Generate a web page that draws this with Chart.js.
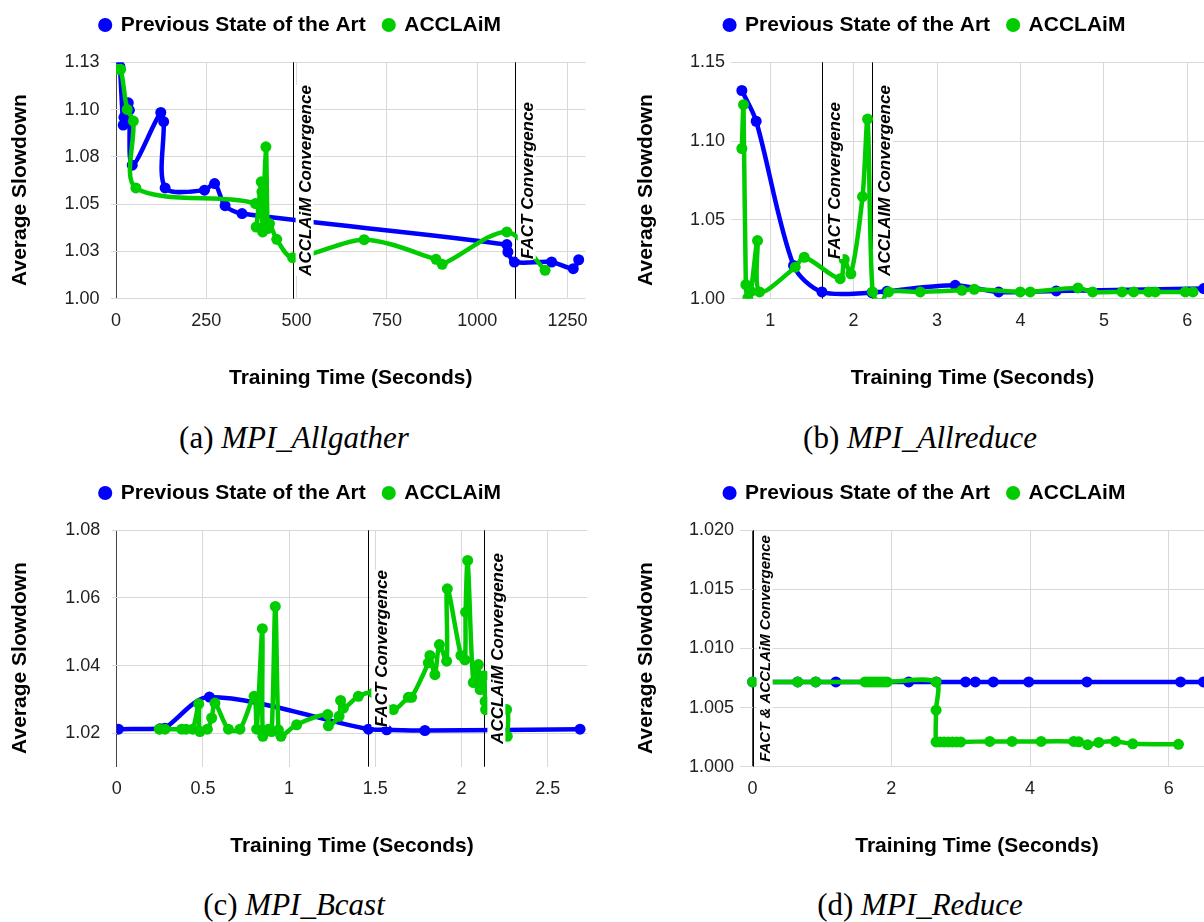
<!DOCTYPE html>
<html>
<head>
<meta charset="utf-8">
<script src="https://cdn.jsdelivr.net/npm/chart.js@4.4.1/dist/chart.umd.min.js"></script>
<style>
  html, body { margin:0; padding:0; background:#fff; width:1204px; height:922px; overflow:hidden; }
  .panel { position:absolute; width:600px; height:395px; }
  .cap { position:absolute; font-family:'Liberation Serif','Times New Roman',serif; font-size:31px; line-height:34px;
         color:#000; white-space:nowrap; transform:translateX(-50%); }
  .cap i { font-style:italic; }
</style>
</head>
<body>
<div class="panel" style="left:0;top:0"><canvas id="cAllgather" width="600" height="395"></canvas></div>
<div class="panel" style="left:625px;top:0"><canvas id="cAllreduce" width="600" height="395"></canvas></div>
<div class="panel" style="left:0;top:468px"><canvas id="cBcast" width="600" height="395"></canvas></div>
<div class="panel" style="left:625px;top:468px"><canvas id="cReduce" width="600" height="395"></canvas></div>

<div class="cap" style="left:294px;top:421px">(a) <i>MPI_Allgather</i></div>
<div class="cap" style="left:920px;top:421px">(b) <i>MPI_Allreduce</i></div>
<div class="cap" style="left:294px;top:888px">(c) <i>MPI_Bcast</i></div>
<div class="cap" style="left:920px;top:888px">(d) <i>MPI_Reduce</i></div>

<script>
// ---- (a) MPI_Allgather ----
const agPrevX = [11, 20, 22, 34, 37, 45, 124, 132, 136, 245, 273, 302, 349, 1082, 1085, 1103, 1206, 1266, 1281];
const agPrevY = [1.1227, 1.0918, 1.0959, 1.1036, 1.0997, 1.0706, 1.0985, 1.0936, 1.0586, 1.0574, 1.0609, 1.0492, 1.0450, 1.0286, 1.0247, 1.0194, 1.0194, 1.0159, 1.0206];
const agAccX = [2, 13, 31, 48, 55, 386, 388, 402, 404, 406, 415, 420, 425, 445, 489, 687, 886, 903, 1082, 1188];
const agAccY = [1.1213, 1.1213, 1.1001, 1.0939, 1.0586, 1.0503, 1.0379, 1.0618, 1.0565, 1.0353, 1.0803, 1.0371, 1.0397, 1.0314, 1.0217, 1.0312, 1.0208, 1.0182, 1.0353, 1.0150];
const agXTicks = [0, 250, 500, 750, 1000, 1250];
const agYTicks = [1.0, 1.025, 1.05, 1.075, 1.1, 1.125];
const agYLabels = ['1.00', '1.03', '1.05', '1.08', '1.10', '1.13'];
const agConvX = [489, 1104];
const agConvText = ['ACCLAiM Convergence', 'FACT Convergence'];

// ---- (b) MPI_Allreduce ----
const arPrevX = [0.660, 0.832, 1.280, 1.620, 2.219, 2.399, 3.218, 3.738, 4.429, 6.196];
const arPrevY = [1.1321, 1.1126, 1.0211, 1.0043, 1.0038, 1.0047, 1.0085, 1.0043, 1.0049, 1.0064];
const arAccX = [0.660, 0.680, 0.708, 0.732, 0.768, 0.848, 0.872, 1.300, 1.408, 1.839, 1.887, 1.967, 2.107, 2.167, 2.227, 2.319, 2.419, 2.799, 3.298, 3.446, 3.998, 4.118, 4.689, 4.865, 5.217, 5.357, 5.536, 5.616, 5.976, 6.068];
const arAccY = [1.0953, 1.1231, 1.0089, 1.0005, 1.0047, 1.0369, 1.0043, 1.0200, 1.0263, 1.0127, 1.0249, 1.0158, 1.0648, 1.1140, 1.0043, 0.9970, 1.0043, 1.0043, 1.0053, 1.0060, 1.0043, 1.0043, 1.0068, 1.0043, 1.0043, 1.0043, 1.0043, 1.0043, 1.0043, 1.0043];
const arXTicks = [1, 2, 3, 4, 5, 6];
const arYTicks = [1.0, 1.05, 1.1, 1.15];
const arYLabels = ['1.00', '1.05', '1.10', '1.15'];
const arConvX = [1.616, 2.219];
const arConvText = ['FACT Convergence', 'ACCLAIM Convergence'];

// ---- (c) MPI_Bcast ----
const bcPrevX = [0.010, 0.251, 0.280, 0.538, 1.460, 1.566, 1.788, 2.688];
const bcPrevY = [1.0212, 1.0213, 1.0215, 1.0307, 1.0212, 1.0210, 1.0208, 1.0212];
const bcAccX = [0.247, 0.280, 0.377, 0.402, 0.441, 0.476, 0.483, 0.526, 0.551, 0.570, 0.648, 0.715, 0.797, 0.812, 0.845, 0.848, 0.880, 0.899, 0.920, 0.938, 0.953, 1.044, 1.224, 1.228, 1.290, 1.299, 1.315, 1.402, 1.489, 1.605, 1.692, 1.711, 1.808, 1.817, 1.846, 1.872, 1.914, 1.918, 1.997, 2.020, 2.024, 2.036, 2.069, 2.098, 2.108, 2.131, 2.137, 2.140, 2.262, 2.266];
const bcAccY = [1.0212, 1.0212, 1.0212, 1.0212, 1.0212, 1.0287, 1.0205, 1.0212, 1.0245, 1.0289, 1.0212, 1.0212, 1.0309, 1.0212, 1.0509, 1.0191, 1.0212, 1.0205, 1.0575, 1.0210, 1.0191, 1.0225, 1.0255, 1.0222, 1.0250, 1.0297, 1.0274, 1.0309, 1.0319, 1.0270, 1.0306, 1.0306, 1.0408, 1.0430, 1.0373, 1.0462, 1.0413, 1.0627, 1.0430, 1.0417, 1.0558, 1.0711, 1.0350, 1.0403, 1.0329, 1.0370, 1.0294, 1.0270, 1.0270, 1.0191];
const bcXTicks = [0, 0.5, 1, 1.5, 2, 2.5];
const bcYTicks = [1.02, 1.04, 1.06, 1.08];
const bcYLabels = ['1.02', '1.04', '1.06', '1.08'];
const bcConvX = [1.46, 2.133];
const bcConvText = ['FACT Convergence', 'ACCLAiM Convergence'];

// ---- (d) MPI_Reduce ----
const rdPrevX = [0, 0.65, 0.91, 1.20, 2.25, 2.65, 3.07, 3.21, 3.47, 3.98, 4.82, 6.17, 6.50];
const rdPrevY = [1.00717, 1.00717, 1.00717, 1.00717, 1.00717, 1.00717, 1.00717, 1.00717, 1.00717, 1.00717, 1.00717, 1.00717, 1.00717];
const rdAccX = [0, 0.65, 0.91, 1.62, 1.66, 1.70, 1.74, 1.78, 1.82, 1.86, 1.90, 1.94, 2.645, 2.645, 2.645, 2.70, 2.76, 2.82, 2.88, 2.94, 3.00, 3.42, 3.74, 4.16, 4.63, 4.70, 4.83, 4.99, 5.23, 5.48, 6.14];
const rdAccY = [1.00717, 1.00717, 1.00717, 1.00717, 1.00717, 1.00717, 1.00717, 1.00717, 1.00717, 1.00717, 1.00717, 1.00717, 1.00717, 1.00478, 1.00210, 1.00210, 1.00210, 1.00210, 1.00210, 1.00210, 1.00210, 1.00214, 1.00214, 1.00214, 1.00214, 1.00211, 1.00186, 1.00205, 1.00214, 1.00194, 1.00189];
const rdXTicks = [0, 2, 4, 6];
const rdYTicks = [1.0, 1.005, 1.01, 1.015, 1.02];
const rdYLabels = ['1.000', '1.005', '1.010', '1.015', '1.020'];
const rdConvX = [0];
const rdConvText = ['FACT & ACCLAiM Convergence'];

const BLUE = '#0000ff', GREEN = '#00cc00';
const FONT = "'Liberation Sans', Arial, sans-serif";
const pts = (xs, ys) => xs.map((x, i) => ({ x, y: ys[i] }));

// extra room under the legend, and nudge it right a bit
const legendGap = {
  id: 'legendGap',
  beforeLayout(chart) {
    const lg = chart.legend;
    if (!lg || lg._gapPatched) return;
    const fit = lg.fit;
    lg.fit = function () { fit.call(this); this.height += 16.8; };
    lg._gapPatched = true;
  },
  afterLayout(chart, args, o) {
    if (chart.legend) chart.legend.right += o.shift * 2;
  }
};

// y title sits a little below the plot centre, as in the original
const yTitle = {
  id: 'yTitle',
  afterDraw(chart, args, o) {
    const { ctx, chartArea: { top, bottom } } = chart;
    ctx.save();
    ctx.translate(o.x, (top + bottom) / 2 + 9.5);
    ctx.rotate(-Math.PI / 2);
    ctx.font = `bold 21px ${FONT}`;
    ctx.fillStyle = '#000'; ctx.textAlign = 'center'; ctx.textBaseline = 'middle';
    ctx.fillText('Average Slowdown', 0, 0);
    ctx.restore();
  }
};

// vertical convergence markers with rotated labels
const convLines = {
  id: 'convLines',
  beforeDatasetsDraw(chart, args, o) {
    const { ctx, chartArea: { top, bottom }, scales: { x } } = chart;
    ctx.save();
    ctx.strokeStyle = '#000'; ctx.lineWidth = 1;
    o.xs.forEach(v => {
      const px = Math.round(x.getPixelForValue(v)) + 0.5;
      ctx.beginPath(); ctx.moveTo(px, top); ctx.lineTo(px, bottom); ctx.stroke();
    });
    ctx.restore();
  },
  afterDatasetsDraw(chart, args, o) {
    const { ctx, chartArea: { top, bottom }, scales: { x } } = chart;
    o.xs.forEach((v, i) => {
      const px = x.getPixelForValue(v);
      ctx.save();
      ctx.translate(px + 12.5, (top + bottom) / 2);
      ctx.rotate(-Math.PI / 2);
      ctx.font = `italic bold ${o.size}px ${FONT}`;
      const w = ctx.measureText(o.text[i]).width;
      ctx.fillStyle = '#fff';
      ctx.fillRect(-w / 2, -o.size / 2 - 1, w, o.size + 1);
      ctx.fillStyle = '#000';
      ctx.textAlign = 'center'; ctx.textBaseline = 'middle';
      ctx.fillText(o.text[i], 0, 1);
      ctx.restore();
    });
  }
};

function makeChart(id, c) {
  return new Chart(document.getElementById(id), {
    type: 'line',
    data: { datasets: [
      { label: 'Previous State of the Art', data: pts(c.prevX, c.prevY), borderColor: BLUE, backgroundColor: BLUE, order: 2 },
      { label: 'ACCLAiM', data: pts(c.accX, c.accY), borderColor: GREEN, backgroundColor: GREEN, order: 1 }
    ]},
    options: {
      responsive: false, animation: false, events: [],
      layout: { padding: { top: -3.5, right: c.padR, bottom: 0, left: 0 } },
      elements: {
        line: { borderWidth: 4.5, tension: 0.3 },
        point: { radius: 5.5, borderWidth: 0, pointStyle: 'circle' }
      },
      plugins: {
        legend: { position: 'top', align: 'center',
          labels: { usePointStyle: true, boxWidth: 10, boxHeight: 10, padding: 18, color: '#000',
                    sort: (a, b) => a.datasetIndex - b.datasetIndex,
                    font: { family: FONT, size: 21, weight: 'bold' } } },
        tooltip: { enabled: false },
        legendGap: { shift: c.legendShift },
        convLines: { xs: c.convX, text: c.convText, size: c.convSize },
        yTitle: { x: c.titleX }
      },
      scales: {
        x: {
          type: 'linear', min: c.xMin, max: c.xMax,
          afterBuildTicks: s => { s.ticks = c.xTicks.map(v => ({ value: v })); },
          afterFit: s => { s.height = 395 - 298.7; },
          ticks: { callback: v => String(v), padding: 12, color: '#222', maxRotation: 0, autoSkip: false,
                   font: { family: FONT, size: 18 } },
          grid: { color: g => (g.tick && g.tick.value === 0) ? '#444' : '#d9d9d9', lineWidth: 1, drawTicks: false },
          border: { display: false },
          title: { display: true, text: 'Training Time (Seconds)', color: '#000',
                   font: { family: FONT, size: 21, weight: 'bold' }, padding: { top: 0, bottom: 4 } }
        },
        y: {
          type: 'linear', min: c.yMin, max: c.yMax,
          afterBuildTicks: s => { s.ticks = c.yTicks.map(v => ({ value: v })); },
          afterFit: s => { s.width = c.yW; },
          ticks: { callback: (v, i) => c.yLabels[i], padding: c.yPad, color: '#222',
                   font: { family: FONT, size: 18 } },
          grid: { color: '#d9d9d9', lineWidth: 1, drawTicks: true, tickLength: 5 },
          border: { display: false }
        }
      }
    },
    plugins: [legendGap, convLines, yTitle]
  });
}

makeChart('cAllgather', { prevX: agPrevX, prevY: agPrevY, accX: agAccX, accY: agAccY,
  xMin: 0, xMax: 1300, xTicks: agXTicks, yMin: 1.0, yMax: 1.125, yTicks: agYTicks, yLabels: agYLabels,
  convX: agConvX, convText: agConvText, convSize: 17, yW: 116, yPad: 11.5, padR: 12.7, titleX: 20, legendShift: 7 });

makeChart('cAllreduce', { prevX: arPrevX, prevY: arPrevY, accX: arAccX, accY: arAccY,
  xMin: 0.59, xMax: 6.26, xTicks: arXTicks, yMin: 1.0, yMax: 1.15, yTicks: arYTicks, yLabels: arYLabels,
  convX: arConvX, convText: arConvText, convSize: 17, yW: 111, yPad: 6, padR: 16, titleX: 21, legendShift: 8 });

makeChart('cBcast', { prevX: bcPrevX, prevY: bcPrevY, accX: bcAccX, accY: bcAccY,
  xMin: 0, xMax: 2.73, xTicks: bcXTicks, yMin: 1.0101, yMax: 1.08, yTicks: bcYTicks, yLabels: bcYLabels,
  convX: bcConvX, convText: bcConvText, convSize: 17, yW: 116.7, yPad: 11.5, padR: 12.7, titleX: 20, legendShift: 7 });

makeChart('cReduce', { prevX: rdPrevX, prevY: rdPrevY, accX: rdAccX, accY: rdAccY,
  xMin: -0.11, xMax: 6.58, xTicks: rdXTicks, yMin: 1.0, yMax: 1.02, yTicks: rdYTicks, yLabels: rdYLabels,
  convX: rdConvX, convText: rdConvText, convSize: 15, yW: 120, yPad: 6, padR: 16, titleX: 21, legendShift: 8 });
</script>
</body>
</html>
